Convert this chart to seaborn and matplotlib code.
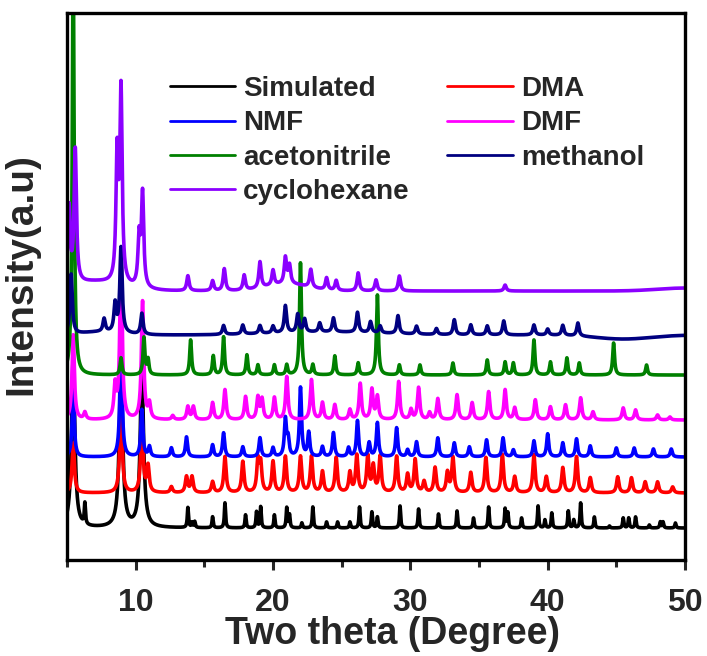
import numpy as np
import pandas as pd
import matplotlib
matplotlib.use("Agg")
import matplotlib.pyplot as plt
from matplotlib.ticker import MultipleLocator
import seaborn as sns

# ---- data: PXRD peak lists (2-theta in degrees, intensity in a.u.) ----
series_names = ["Simulated", "DMA", "NMF", "DMF", "acetonitrile", "methanol", "cyclohexane"]
series_colors = ["#000000", "#ff0000", "#0000ff", "#ff00ff", "#008000", "#000080", "#8b00ff"]
legend_order = ["Simulated", "NMF", "acetonitrile", "cyclohexane", "DMA", "DMF", "methanol"]

# vertical stacking offset of each pattern
offsets = [32, 67, 103, 140, 185, 225, 269]
# Lorentzian half width of the peaks in each pattern
peak_hwhm = [0.05, 0.1, 0.09, 0.1, 0.08, 0.1, 0.1]

sim_broad = [(5.45, 170), (8.93, 170), (10.45, 160)]
sim_peaks = [(6.3, 21), (13.8, 20), (14.1, 5), (14.3, 6), (15.6, 11), (16.5, 25),
             (18.0, 13), (18.8, 16), (19.1, 21), (20.1, 13), (21.0, 20), (21.2, 13),
             (22.1, 5), (22.9, 21), (23.9, 6), (24.7, 6), (25.6, 6), (26.3, 21),
             (27.2, 16), (27.6, 11), (29.25, 22), (30.6, 19), (32.05, 14), (33.4, 17),
             (34.6, 10), (35.7, 21), (36.9, 19), (37.1, 15), (38.1, 10), (39.3, 22),
             (39.8, 8), (40.3, 15), (41.5, 17), (41.9, 8), (42.4, 25), (43.4, 11),
             (44.5, 2), (45.5, 10), (45.9, 10), (46.4, 11), (47.4, 3), (48.2, 6),
             (48.4, 6), (49.3, 5)]

dma_peaks = [(5.45, 50), (8.93, 93), (10.45, 73), (10.9, 26), (12.6, 6), (13.7, 16),
             (14.1, 16), (15.6, 11), (16.5, 36), (17.8, 31), (18.9, 31), (19.1, 28),
             (20.0, 31), (20.9, 36), (22.0, 36), (22.8, 36), (23.6, 21), (24.6, 35),
             (25.6, 20), (26.1, 37), (26.9, 36), (27.3, 26), (27.8, 36), (29.0, 36),
             (29.8, 18), (30.35, 33), (31.0, 11), (31.8, 25), (32.7, 20), (33.1, 35),
             (34.4, 20), (35.5, 35), (36.7, 38), (37.6, 16), (39.0, 38), (39.9, 16),
             (41.1, 25), (42.1, 36), (43.1, 15), (45.1, 16), (46.1, 15), (47.1, 11),
             (48.0, 11), (49.1, 6)]

nmf_peaks = [(5.45, 67), (8.93, 127), (10.45, 47), (11.0, 10), (12.6, 9), (13.7, 20),
             (15.6, 12), (16.4, 24), (17.8, 10), (19.05, 19), (20.0, 9), (20.9, 37),
             (21.1, 17), (22.0, 69), (22.6, 24), (23.6, 10), (24.4, 24), (25.5, 9),
             (26.15, 36), (27.0, 14), (27.6, 34), (29.0, 29), (29.8, 7), (30.45, 15),
             (32.0, 19), (33.2, 14), (34.3, 10), (35.55, 17), (36.75, 19), (37.5, 7),
             (39.0, 16), (40.0, 23), (41.1, 14), (42.1, 18), (43.1, 11), (45.0, 9),
             (46.3, 9), (47.7, 8), (49.0, 8)]

dmf_peaks = [(5.45, 85), (6.3, 7), (8.5, 32), (8.93, 167), (10.5, 118), (11.0, 15),
             (12.7, 4), (13.8, 13), (14.2, 13), (15.6, 17), (16.5, 30), (18.0, 23),
             (18.9, 22), (19.2, 20), (20.1, 22), (21.0, 43), (22.8, 40), (23.6, 17),
             (24.5, 15), (25.6, 10), (26.35, 36), (27.2, 30), (27.6, 23), (29.15, 38),
             (30.05, 10), (30.6, 32), (31.4, 7), (32.0, 21), (33.4, 25), (34.5, 17),
             (35.7, 28), (36.9, 30), (37.6, 12), (39.1, 20), (40.2, 13), (41.3, 15),
             (42.4, 22), (43.3, 8), (45.5, 12), (46.4, 10), (48.0, 5), (48.9, 3)]

acn_peaks = [(5.45, 420), (8.93, 17), (10.6, 37), (10.9, 15), (14.0, 35), (15.65, 19),
             (16.4, 38), (18.1, 20), (18.9, 10), (20.1, 10), (21.0, 10), (22.0, 112),
             (22.9, 10), (24.5, 19), (26.2, 12), (27.6, 80), (29.2, 10), (30.7, 10),
             (33.1, 12), (35.6, 15), (36.9, 13), (37.5, 12), (39.0, 35), (40.2, 13),
             (41.4, 17), (42.3, 12), (44.8, 32), (47.2, 10)]

meoh_peaks = [(5.3, 60), (7.7, 13), (8.5, 28), (8.93, 85), (10.45, 21), (16.4, 9),
              (17.8, 9), (19.05, 8), (20.0, 7), (20.9, 27), (21.8, 18), (22.3, 13),
              (23.4, 9), (24.4, 14), (26.15, 20), (27.1, 11), (27.8, 7), (29.1, 18),
              (30.45, 8), (31.9, 6), (33.2, 15), (34.4, 10), (35.6, 9), (36.8, 14),
              (39.0, 10), (40.0, 6), (41.1, 10), (42.2, 13)]
meoh_humps = [(7.5, 3, 1.5), (24.0, 3, 4.0), (45.5, -4, 2.0)]

chx_peaks = [(5.15, 76), (5.6, 133), (8.65, 125), (8.93, 190), (10.25, 48), (10.5, 93),
             (13.8, 15), (15.6, 10), (16.45, 22), (17.9, 15), (19.05, 26), (20.0, 15),
             (20.9, 26), (21.2, 18), (22.75, 18), (23.9, 12), (24.6, 10), (26.2, 18),
             (27.5, 11), (29.2, 15), (36.9, 6)]
chx_humps = [(7.0, 9, 2.0), (21.0, 7, 1.5), (50.0, 3, 2.0)]

theta = np.arange(5.0, 50.0001, 0.01)


def lorentz_sum(x, peaks, hwhm):
    y = np.zeros_like(x)
    for pos, h in peaks:
        y += h * hwhm ** 2 / ((x - pos) ** 2 + hwhm ** 2)
    return y


def hump_sum(x, humps):
    y = np.zeros_like(x)
    for c, h, s in humps:
        y += h * np.exp(-0.5 * ((x - c) / s) ** 2)
    return y


patterns = [
    lorentz_sum(theta, sim_peaks, peak_hwhm[0]) + lorentz_sum(theta, sim_broad, 0.14),
    lorentz_sum(theta, dma_peaks, peak_hwhm[1]),
    lorentz_sum(theta, nmf_peaks, peak_hwhm[2]),
    lorentz_sum(theta, dmf_peaks, peak_hwhm[3]),
    lorentz_sum(theta, acn_peaks, peak_hwhm[4]),
    lorentz_sum(theta, meoh_peaks, peak_hwhm[5]) + hump_sum(theta, meoh_humps),
    lorentz_sum(theta, chx_peaks, peak_hwhm[6]) + hump_sum(theta, chx_humps),
]

frames = []
for name, off, pat in zip(series_names, offsets, patterns):
    frames.append(pd.DataFrame({"theta": theta, "intensity": pat + off, "series": name}))
df = pd.concat(frames, ignore_index=True)

# ---- plot ----
sns.set_style("ticks")
plt.rcParams["font.family"] = ["Liberation Sans", "DejaVu Sans"]
plt.rcParams["font.weight"] = "bold"

fig = plt.figure(figsize=(7.07, 6.56), dpi=100)
ax = fig.add_axes([0.0948, 0.1463, 0.8741, 0.8338])

sns.lineplot(data=df, x="theta", y="intensity", hue="series", hue_order=series_names,
             palette=series_colors, estimator=None, sort=False, linewidth=2.6, ax=ax)

ax.set_xlim(5, 50)
ax.set_ylim(0, 547)
ax.xaxis.set_major_locator(MultipleLocator(10))
ax.xaxis.set_minor_locator(MultipleLocator(5))
ax.set_yticks([])
ax.tick_params(axis="x", which="major", direction="out", length=7, width=2.2,
               labelsize=23, pad=13)
ax.tick_params(axis="x", which="minor", direction="out", length=5, width=2.2)
for lab in ax.get_xticklabels():
    lab.set_fontweight("bold")
for sp in ax.spines.values():
    sp.set_linewidth(2.4)
    sp.set_color("black")

ax.set_xlabel("Two theta (Degree)", fontsize=27, fontweight="bold")
ax.xaxis.set_label_coords(0.527, -0.103)
ax.set_ylabel("Intensity(a.u)", fontsize=28, fontweight="bold")
ax.yaxis.set_label_coords(-0.044, 0.523)

handles, labels = ax.get_legend_handles_labels()
hmap = dict(zip(labels, handles))
leg = ax.legend([hmap[n] for n in legend_order], legend_order, ncol=2, frameon=False,
                loc="upper left", bbox_to_anchor=(0.166, 0.885),
                prop={"weight": "bold", "size": 20}, handlelength=2.35,
                handletextpad=0.3, labelspacing=0.3, columnspacing=1.35,
                borderpad=0, borderaxespad=0)
for ln in leg.get_lines():
    ln.set_linewidth(2.0)

fig.savefig("out.png", dpi=100)
